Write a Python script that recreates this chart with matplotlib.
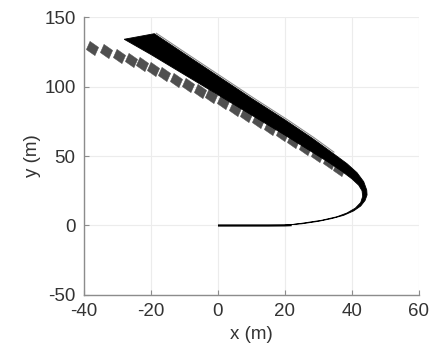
import numpy as np
import matplotlib
matplotlib.use("Agg")
import matplotlib.pyplot as plt
from matplotlib.path import Path

# ---- data ----
base_x = [0, 5, 10, 15, 20, 22]
base_y = [0, 0, 0, 0, 0.1, 0.3]

# outer edge of the trajectory bundle (turn + upper edge)
outer_x = [20, 25, 30, 34, 37.5, 40.5, 42.6, 43.9, 44.5, 44.4, 43.5, 41.5, 38.5, 34, 28, 20, 10, 0, -10, -19]
outer_y = [0.4, 1.2, 3.0, 5.0, 7.3, 10.5, 14.0, 18.0, 22.0, 25.5, 31.5, 38.0, 44.5, 52.5, 63.0, 76.0, 91.5, 107.5, 123.5, 138.0]
# inner edge of the trajectory bundle (lower edge)
inner_x = [-28, -20, -10, 0, 10, 20, 28, 33, 37, 40, 42, 43.0, 43.2, 42.6, 41.0, 38.5, 35.5, 31, 25, 20]
inner_y = [134.0, 123.0, 108.5, 94.0, 79.5, 65.0, 53.0, 45.5, 39.0, 33.5, 29.0, 25.0, 21.0, 16.5, 12.5, 9.0, 6.3, 3.8, 1.6, 0.0]

# thin grey line along the upper edge
edge_x = [-18.4, -9.4, 0.6, 10.6, 20.6, 28.6, 34.6]
edge_y = [138.3, 123.8, 107.8, 91.8, 76.3, 63.3, 52.8]

# grey dashed footprint band
dash_x = [-37.6, -33.5, -29.5, -26.0, -22.8, -19.5, -16.0, -12.5, -9.0, -5.5, -2.0,
          1.5, 5.0, 8.5, 12.0, 15.5, 19.0, 22.5, 26.0, 29.5, 33.0, 36.0]
dash_y = [127.5, 125.5, 122.0, 119.0, 116.0, 112.5, 109.0, 105.0, 101.0, 97.0, 93.0,
          88.5, 84.0, 79.5, 75.0, 70.0, 65.5, 60.5, 55.5, 50.5, 45.5, 41.0]

x_ticks = [-40, -20, 0, 20, 40, 60]
y_ticks = [-50, 0, 50, 100, 150]

# ---- figure ----
plt.rcParams['font.family'] = ['Liberation Sans', 'DejaVu Sans']
plt.rcParams['axes.unicode_minus'] = False
fig = plt.figure(figsize=(4.30, 3.62), dpi=100)
ax = fig.add_axes([0.1953, 0.1851, 0.7791, 0.7679])

# dash marker: parallelogram in points
L, T = 7.6, 6.4
ang = np.deg2rad(-35)
u = np.array([np.cos(ang), np.sin(ang)])
cut = np.deg2rad(66)
v = np.array([np.cos(cut), np.sin(cut)])
v = v * (T / 2) / abs(np.cross(u, v))
verts = [L/2*u + v, -L/2*u + v, -L/2*u - v, L/2*u - v, L/2*u + v]
pth = Path(verts, [Path.MOVETO, Path.LINETO, Path.LINETO, Path.LINETO, Path.CLOSEPOLY])
msize = 2 * np.max(np.abs(np.array(verts)))
ax.plot(dash_x, dash_y, linestyle='none', marker=pth, markersize=msize,
        markerfacecolor='#4f4f4f', markeredgecolor='#4f4f4f', markeredgewidth=0.3, zorder=3)

# black bundle
poly_x = outer_x + inner_x
poly_y = outer_y + inner_y
ax.fill(poly_x, poly_y, color='black', lw=0.6, ec='black', zorder=4)
ax.plot(base_x, base_y, color='black', lw=1.6, solid_capstyle='butt', zorder=4)
ax.plot(edge_x, edge_y, color='#8a8a8a', lw=0.8, zorder=4)

ax.set_xlim(-40, 60)
ax.set_ylim(-50, 150)
ax.set_xticks(x_ticks)
ax.set_yticks(y_ticks)
ax.grid(True, color='#ececec', lw=0.8)
ax.set_axisbelow(True)
for s in ['top', 'right']:
    ax.spines[s].set_visible(False)
for s in ['left', 'bottom']:
    ax.spines[s].set_color('#8c8c8c')
    ax.spines[s].set_linewidth(1.0)
ax.tick_params(direction='in', length=3.5, width=0.8, color='#8c8c8c',
               labelsize=13.5, labelcolor='#333333', pad=6)
ax.set_xlabel('x (m)', fontsize=13.5, color='#333333', labelpad=4)
ax.set_ylabel('y (m)', fontsize=13.5, color='#333333', labelpad=2)

fig.savefig('out.png', dpi=100)
